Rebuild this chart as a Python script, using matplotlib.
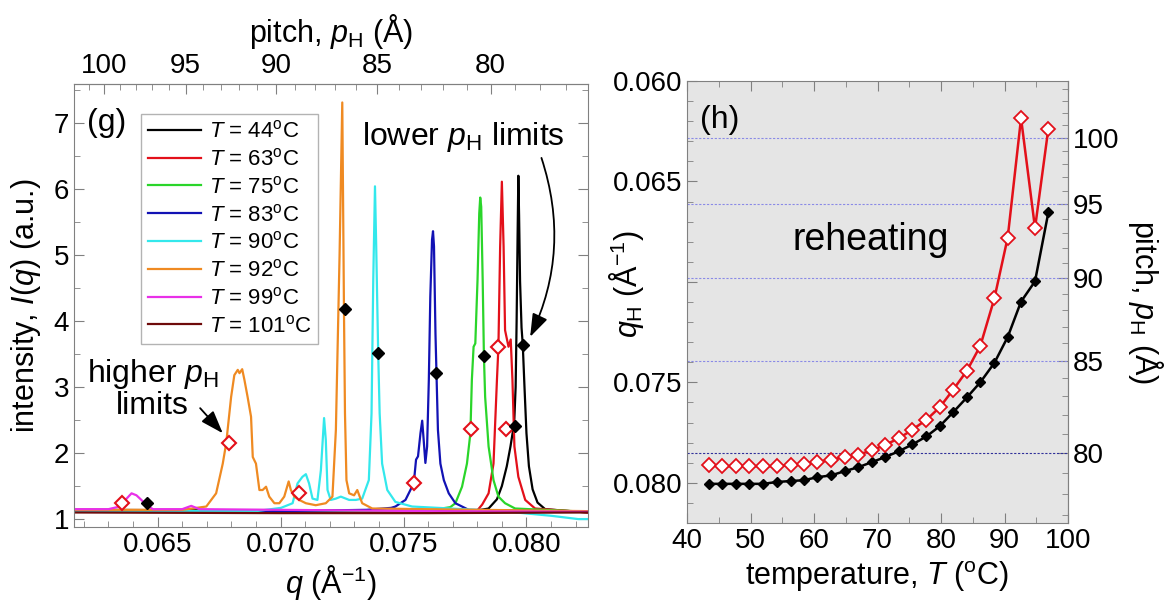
import numpy as np
import matplotlib
matplotlib.use('Agg')
import matplotlib.pyplot as plt
from matplotlib.ticker import MultipleLocator, FixedLocator

plt.rcParams['font.family'] = ['Liberation Sans', 'DejaVu Sans']
plt.rcParams['mathtext.fontset'] = 'custom'
plt.rcParams['mathtext.rm'] = 'Liberation Sans'
plt.rcParams['mathtext.it'] = 'Liberation Sans:italic'
plt.rcParams['mathtext.bf'] = 'Liberation Sans:bold'

# ---- panel (g): scattering profiles I(q) ----
q_44 = [0.0616, 0.0700, 0.0760, 0.0780, 0.07846, 0.07880, 0.07900, 0.07920, 0.07935,
        0.07950, 0.07956, 0.07960, 0.07964, 0.07967, 0.07970, 0.07974, 0.07980, 0.07985,
        0.07992, 0.08000, 0.08010, 0.08025, 0.08045, 0.08076, 0.0825]
i_44 = [1.14, 1.13, 1.12, 1.13, 1.16, 1.30, 1.50, 1.80, 2.10,
        2.45, 3.00, 4.00, 5.30, 6.20, 5.60, 4.60, 3.90, 3.64,
        3.00, 2.30, 1.80, 1.45, 1.25, 1.15, 1.10]

q_63 = [0.0616, 0.0700, 0.0760, 0.0780, 0.07820, 0.07846, 0.07866, 0.07880, 0.07886,
        0.07893, 0.07900, 0.07907, 0.07913, 0.07927, 0.07936, 0.07943, 0.07951, 0.07967,
        0.07995, 0.08035, 0.0825]
i_63 = [1.13, 1.12, 1.11, 1.13, 1.22, 1.39, 1.84, 3.11, 3.61,
        5.13, 6.11, 5.13, 3.86, 3.61, 3.72, 3.11, 2.10, 1.64,
        1.29, 1.16, 1.10]

q_75 = [0.0616, 0.0700, 0.0760, 0.07690, 0.07711, 0.07738, 0.07758, 0.07772, 0.07778,
        0.07785, 0.07792, 0.07801, 0.07808, 0.07812, 0.07816, 0.07822, 0.07827, 0.07832,
        0.07846, 0.07866, 0.07886, 0.07913, 0.07954, 0.0825]
i_75 = [1.13, 1.12, 1.13, 1.18, 1.24, 1.49, 1.84, 2.30, 3.11,
        3.61, 3.66, 4.62, 5.63, 5.87, 5.73, 4.62, 3.47, 2.85,
        2.10, 1.59, 1.34, 1.24, 1.16, 1.11]

q_83 = [0.0616, 0.0700, 0.0735, 0.0745, 0.07467, 0.07508, 0.07528, 0.07542, 0.07551,
        0.07559, 0.07569, 0.07576, 0.07582, 0.07589, 0.07596, 0.07603, 0.07609, 0.07616,
        0.07620, 0.07624, 0.07630, 0.07634, 0.07640, 0.07650, 0.07664, 0.07684, 0.07711,
        0.07765, 0.0825]
i_83 = [1.12, 1.12, 1.14, 1.17, 1.19, 1.29, 1.44, 1.55, 1.90,
        1.95, 2.30, 2.49, 2.20, 1.85, 2.10, 3.11, 4.37, 5.23,
        5.36, 5.13, 3.81, 3.22, 2.35, 1.84, 1.59, 1.39, 1.24,
        1.14, 1.11]

q_90 = [0.0616, 0.0690, 0.07002, 0.07049, 0.07069, 0.07089, 0.07103, 0.07116, 0.07130,
        0.07150, 0.07164, 0.07177, 0.07184, 0.07191, 0.07204, 0.07225, 0.07245, 0.07279,
        0.07306, 0.07332, 0.07359, 0.07370, 0.07377, 0.07384, 0.07389, 0.07397, 0.07403,
        0.07413, 0.07434, 0.07467, 0.07535, 0.0790, 0.0810, 0.0821, 0.0825]
i_90 = [1.12, 1.12, 1.17, 1.24, 1.54, 1.64, 1.68, 1.54, 1.31,
        1.29, 1.74, 2.53, 2.20, 1.44, 1.29, 1.31, 1.34, 1.29,
        1.29, 1.31, 1.59, 2.60, 4.62, 6.04, 5.13, 3.52, 2.60,
        1.84, 1.44, 1.26, 1.19, 1.12, 1.05, 1.00, 1.00]

q_92 = [0.0616, 0.0660, 0.06698, 0.06738, 0.06765, 0.06779, 0.06799, 0.06812, 0.06826,
        0.06833, 0.06844, 0.06853, 0.06866, 0.06880, 0.06887, 0.06900, 0.06914, 0.06927,
        0.06941, 0.06954, 0.06975, 0.06995, 0.07015, 0.07033, 0.07042, 0.07056, 0.07076,
        0.07103, 0.07143, 0.07184, 0.07211, 0.07225, 0.07240, 0.07251, 0.07255, 0.07258,
        0.07262, 0.07268, 0.07279, 0.07299, 0.07312, 0.07332, 0.07373, 0.0825]
i_92 = [1.14, 1.14, 1.19, 1.39, 1.84, 2.15, 2.85, 3.18, 3.26,
        3.21, 3.27, 3.11, 2.85, 2.55, 1.94, 1.84, 1.44, 1.44,
        1.49, 1.34, 1.24, 1.24, 1.34, 1.57, 1.44, 1.34, 1.29,
        1.24, 1.21, 1.24, 1.34, 2.35, 5.00, 7.31, 5.50, 4.12,
        2.60, 1.59, 1.39, 1.36, 1.44, 1.24, 1.16, 1.12]

q_99 = [0.0616, 0.0630, 0.06346, 0.06374, 0.06394, 0.06414, 0.06434, 0.06455, 0.06481,
        0.0660, 0.06637, 0.0667, 0.0700, 0.0760, 0.0825]
i_99 = [1.15, 1.15, 1.19, 1.31, 1.39, 1.36, 1.29, 1.21, 1.15,
        1.15, 1.20, 1.15, 1.14, 1.12, 1.11]

q_101 = [0.0616, 0.0700, 0.0760, 0.0825]
i_101 = [1.10, 1.09, 1.09, 1.10]

labels_g = ['44', '63', '75', '83', '90', '92', '99', '101']

# limit markers in (g)
q_open = [0.06356, 0.06789, 0.07073, 0.07542, 0.07774, 0.07886, 0.07915]
i_open = [1.24, 2.15, 1.39, 1.55, 2.36, 3.61, 2.36]
q_solid = [0.06457, 0.07261, 0.07397, 0.07634, 0.07827, 0.07955, 0.07985]
i_solid = [1.24, 4.18, 3.52, 3.22, 3.47, 2.41, 3.64]

# ---- panel (h): peak limits vs temperature ----
temps = [43.4, 45.5, 47.7, 49.8, 52.0, 54.1, 56.3, 58.4, 60.5, 62.7, 64.8, 67.0, 69.1,
         71.2, 73.4, 75.5, 77.7, 79.8, 81.9, 84.1, 86.2, 88.4, 90.5, 92.6, 94.8, 96.9]
q_low = [0.08005, 0.08005, 0.08005, 0.08005, 0.08005, 0.07996, 0.07991, 0.07987, 0.07972,
         0.07963, 0.07942, 0.07922, 0.07897, 0.07872, 0.07842, 0.07809, 0.07769, 0.07718,
         0.07649, 0.07574, 0.07499, 0.07403, 0.07274, 0.07098, 0.06997, 0.06654]
q_high = [0.07912, 0.07917, 0.07917, 0.07917, 0.07917, 0.07917, 0.07912, 0.07907, 0.07897,
          0.07885, 0.07872, 0.07859, 0.07839, 0.07811, 0.07778, 0.07735, 0.07686, 0.07624,
          0.07537, 0.07441, 0.07317, 0.07082, 0.06779, 0.06185, 0.06732, 0.06237]
pitch_lines = [80, 85, 90, 95, 100]


def q_to_p(q):
    q = np.asarray(q, dtype=float)
    with np.errstate(divide='ignore', invalid='ignore'):
        return 2 * np.pi / q


TICK_FS = 20
LABEL_FS = 22
SPINE = '#808080'

fig = plt.figure(figsize=(11.67, 6.13), dpi=100)
ax1 = fig.add_axes([0.0634, 0.1403, 0.4404, 0.7227])
ax2 = fig.add_axes([0.5887, 0.1468, 0.3265, 0.7210])

colors = ['black', '#e3101a', '#2ad52a', '#1212b4', '#33e8ec', '#ef8a22', '#e830e8', '#6e0a0a']
curves = [(q_44, i_44), (q_63, i_63), (q_75, i_75), (q_83, i_83),
          (q_90, i_90), (q_92, i_92), (q_99, i_99), (q_101, i_101)]
for (qq, ii), c, lab in zip(curves, colors, labels_g):
    ax1.plot(qq, ii, color=c, lw=1.6, label=r'$T$ = %s$^{\rm o}$C' % lab)

ax1.plot(q_open, i_open, ls='none', marker='D', ms=7, mfc='white', mec='#e3101a', mew=1.5)
ax1.plot(q_solid, i_solid, ls='none', marker='D', ms=6, color='black')

ax1.set_xlim(0.0616, 0.0825)
ax1.set_ylim(0.88, 7.59)
ax1.xaxis.set_major_locator(FixedLocator([0.065, 0.070, 0.075, 0.080]))
ax1.xaxis.set_minor_locator(MultipleLocator(0.001))
ax1.yaxis.set_major_locator(MultipleLocator(1))
ax1.yaxis.set_minor_locator(MultipleLocator(0.5))
ax1.set_xticklabels(['0.065', '0.070', '0.075', '0.080'])
ax1.tick_params(which='both', direction='in', top=False, right=True, color=SPINE,
                labelsize=TICK_FS)
ax1.tick_params(which='major', length=7)
ax1.tick_params(which='minor', length=4)
for s in ax1.spines.values():
    s.set_color(SPINE)
ax1.set_xlabel(r'$q$ (Å$^{-1}$)', fontsize=LABEL_FS, labelpad=4)
ax1.set_ylabel(r'intensity, $I$($q$) (a.u.)', fontsize=LABEL_FS, labelpad=8)

top = ax1.secondary_xaxis('top', functions=(q_to_p, q_to_p))
top.set_xticks([100, 95, 90, 85, 80])
top.xaxis.set_minor_locator(MultipleLocator(1))
top.tick_params(which='both', direction='in', color=SPINE, labelsize=TICK_FS)
top.tick_params(which='major', length=7)
top.tick_params(which='minor', length=4)
top.spines['top'].set_color(SPINE)
top.set_xlabel(r'pitch, $p_{\rm H}$ (Å)', fontsize=LABEL_FS, labelpad=8)

leg = ax1.legend(loc='upper left', bbox_to_anchor=(141 / 1167, 1 - 114 / 613),
                 bbox_transform=fig.transFigure, fontsize=16, frameon=True, fancybox=False,
                 edgecolor='#a0a0a0', handlelength=2.4, handletextpad=0.35,
                 labelspacing=0.26, borderpad=0.3, borderaxespad=0)
leg.get_frame().set_linewidth(1.0)

ax1.text(0.025, 0.912, '(g)', transform=ax1.transAxes, fontsize=23, va='center', ha='left')
ax1.text(0.07745, 6.78, r'lower $p_{\rm H}$ limits', fontsize=23, ha='center', va='center')
ax1.annotate('', xy=(0.08015, 3.76), xytext=(0.08061, 6.47),
             arrowprops=dict(arrowstyle='-|>,head_length=1.0,head_width=0.35',
                             connectionstyle='arc3,rad=-0.2', color='black', lw=1.3,
                             mutation_scale=14, shrinkA=0, shrinkB=0))
ax1.text(0.06480, 2.97, 'higher $p_{\\rm H}$\nlimits', fontsize=23, ha='center',
         va='center', linespacing=1.0)
ax1.annotate('', xy=(0.06765, 2.30), xytext=(0.06673, 2.68),
             arrowprops=dict(arrowstyle='-|>,head_length=1.0,head_width=0.35',
                             color='black', lw=1.3, mutation_scale=14, shrinkA=0, shrinkB=0))

# ---- panel (h) ----
ax2.set_facecolor('#e5e5e5')
for p in pitch_lines:
    c = '#30309a' if p == 80 else '#8a8ae6'
    ax2.axhline(2 * np.pi / p, color=c, lw=0.8, ls=(0, (2, 1.5)), zorder=1)
ax2.plot(temps, q_low, color='black', lw=1.8, marker='D', ms=5.5, zorder=3)
ax2.plot(temps, q_high, color='#e3101a', lw=1.8, marker='D', ms=7, mfc='white',
         mec='#e3101a', mew=1.3, zorder=3)

ax2.set_xlim(40, 100)
ax2.set_ylim(0.082, 0.060)
ax2.xaxis.set_major_locator(MultipleLocator(10))
ax2.xaxis.set_minor_locator(MultipleLocator(5))
ax2.yaxis.set_major_locator(FixedLocator([0.060, 0.065, 0.070, 0.075, 0.080]))
ax2.yaxis.set_minor_locator(MultipleLocator(0.001))
ax2.set_yticklabels(['0.060', '0.065', '', '0.075', '0.080'])
ax2.tick_params(which='both', direction='in', top=True, right=False, color=SPINE,
                labelsize=TICK_FS)
ax2.tick_params(which='major', length=7)
ax2.tick_params(which='minor', length=4)
for s in ax2.spines.values():
    s.set_color(SPINE)
ax2.set_xlabel(r'temperature, $T$ ($^{\rm o}$C)', fontsize=LABEL_FS, labelpad=4)
ax2.set_ylabel(r'$q_{\rm H}$ (Å$^{-1}$)', fontsize=LABEL_FS)
ax2.yaxis.set_label_coords(-0.108, 0.54)

right = ax2.secondary_yaxis('right', functions=(q_to_p, q_to_p))
right.set_yticks([80, 85, 90, 95, 100])
right.yaxis.set_minor_locator(MultipleLocator(1))
right.tick_params(which='both', direction='in', color=SPINE, labelsize=TICK_FS)
right.tick_params(which='major', length=7)
right.tick_params(which='minor', length=4)
right.spines['right'].set_color(SPINE)
right.set_ylabel(r'pitch, $p_{\rm H}$ (Å)', fontsize=LABEL_FS, rotation=270, labelpad=33)

ax2.text(0.034, 0.912, '(h)', transform=ax2.transAxes, fontsize=23, va='center', ha='left')
ax2.text(0.483, 0.640, 'reheating', transform=ax2.transAxes, fontsize=27,
         va='center', ha='center')

fig.savefig('out.png', dpi=100)
